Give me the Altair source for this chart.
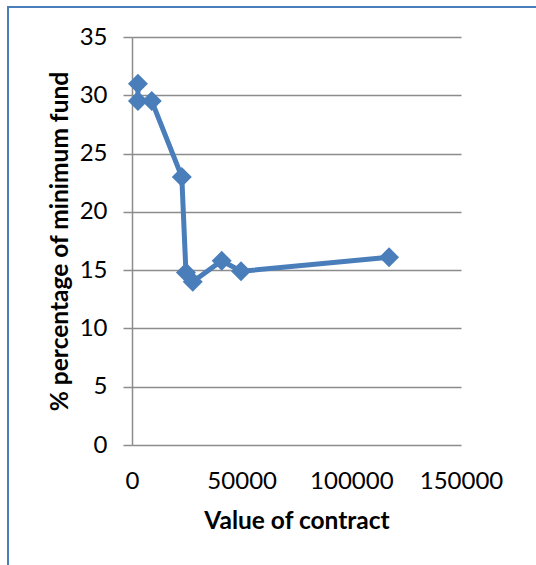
import altair as alt
import pandas as pd

# Data
contract_value = [2700, 2700, 9000, 22700, 24600, 27700, 40900, 49700, 117200]
pct_min_fund = [31.0, 29.5, 29.5, 23.0, 14.8, 14.0, 15.8, 14.9, 16.1]
order = list(range(len(contract_value)))

x_ticks = [0, 50000, 100000, 150000]
y_ticks = [0, 5, 10, 15, 20, 25, 30, 35]

df = pd.DataFrame({"x": contract_value, "y": pct_min_fund, "o": order})

FONT = "Lato"
BLUE = "#4a7ebb"
GRID = "#8c8c8c"

W, H = 329, 408
PL, PT = 132, 37
PR, PB = 536 - PL - W, 565 - PT - H

x_enc = alt.X(
    "x:Q",
    scale=alt.Scale(domain=[0, 150000], nice=False, zero=True),
    axis=alt.Axis(
        values=x_ticks,
        format="d",
        title="Value of contract",
        grid=False,
        ticks=False,
        tickSize=0,
        domain=False,
        labelPadding=24,
        labelFont=FONT,
        labelFontSize=24,
        labelColor="#000000",
        labelBaseline="top",
        labelFlush=False,
        titleFont=FONT,
        titleFontSize=24.5,
        titleFontWeight="bold",
        titleColor="#000000",
        titleBaseline="alphabetic",
        titleX=W / 2,
        titleY=83,
    ),
)

y_enc = alt.Y(
    "y:Q",
    scale=alt.Scale(domain=[0, 35], nice=False),
    axis=alt.Axis(
        values=y_ticks,
        title="% percentage of minimum fund",
        grid=True,
        gridColor=GRID,
        gridWidth=1.5,
        gridOpacity=1,
        ticks=True,
        tickSize=9,
        tickColor=GRID,
        tickWidth=1.5,
        domain=True,
        domainColor=GRID,
        domainWidth=1.5,
        labelPadding=16,
        labelFont=FONT,
        labelFontSize=24,
        labelColor="#000000",
        labelFlush=False,
        titleFont=FONT,
        titleFontSize=24.5,
        titleFontWeight="bold",
        titleColor="#000000",
        titleAngle=-90,
        titleAlign="center",
        titleBaseline="middle",
        titleX=-72,
        titleY=H / 2,
    ),
)

base = alt.Chart(df)

line = base.mark_line(color=BLUE, strokeWidth=5).encode(
    x=x_enc, y=y_enc, order="o:Q"
)
points = base.mark_point(
    shape="diamond", filled=True, color=BLUE, size=400, opacity=1
).encode(x="x:Q", y="y:Q")

border = alt.Chart(pd.DataFrame({"a": [0]})).mark_rect(
    filled=False, stroke=BLUE, strokeWidth=2, fill=None
).encode(
    x=alt.value(8 - PL),
    x2=alt.value(W + PR + 20),
    y=alt.value(7 - PT),
    y2=alt.value(H + PB + 20),
)

chart = (
    alt.layer(border, line, points)
    .properties(
        width=W,
        height=H,
        autosize=alt.AutoSizeParams(type="none"),
        padding={"left": PL, "top": PT, "right": PR, "bottom": PB},
        background="white",
    )
    .configure_view(stroke=None)
)

chart.save("out.html", embed_options={"renderer": "svg", "actions": False})
